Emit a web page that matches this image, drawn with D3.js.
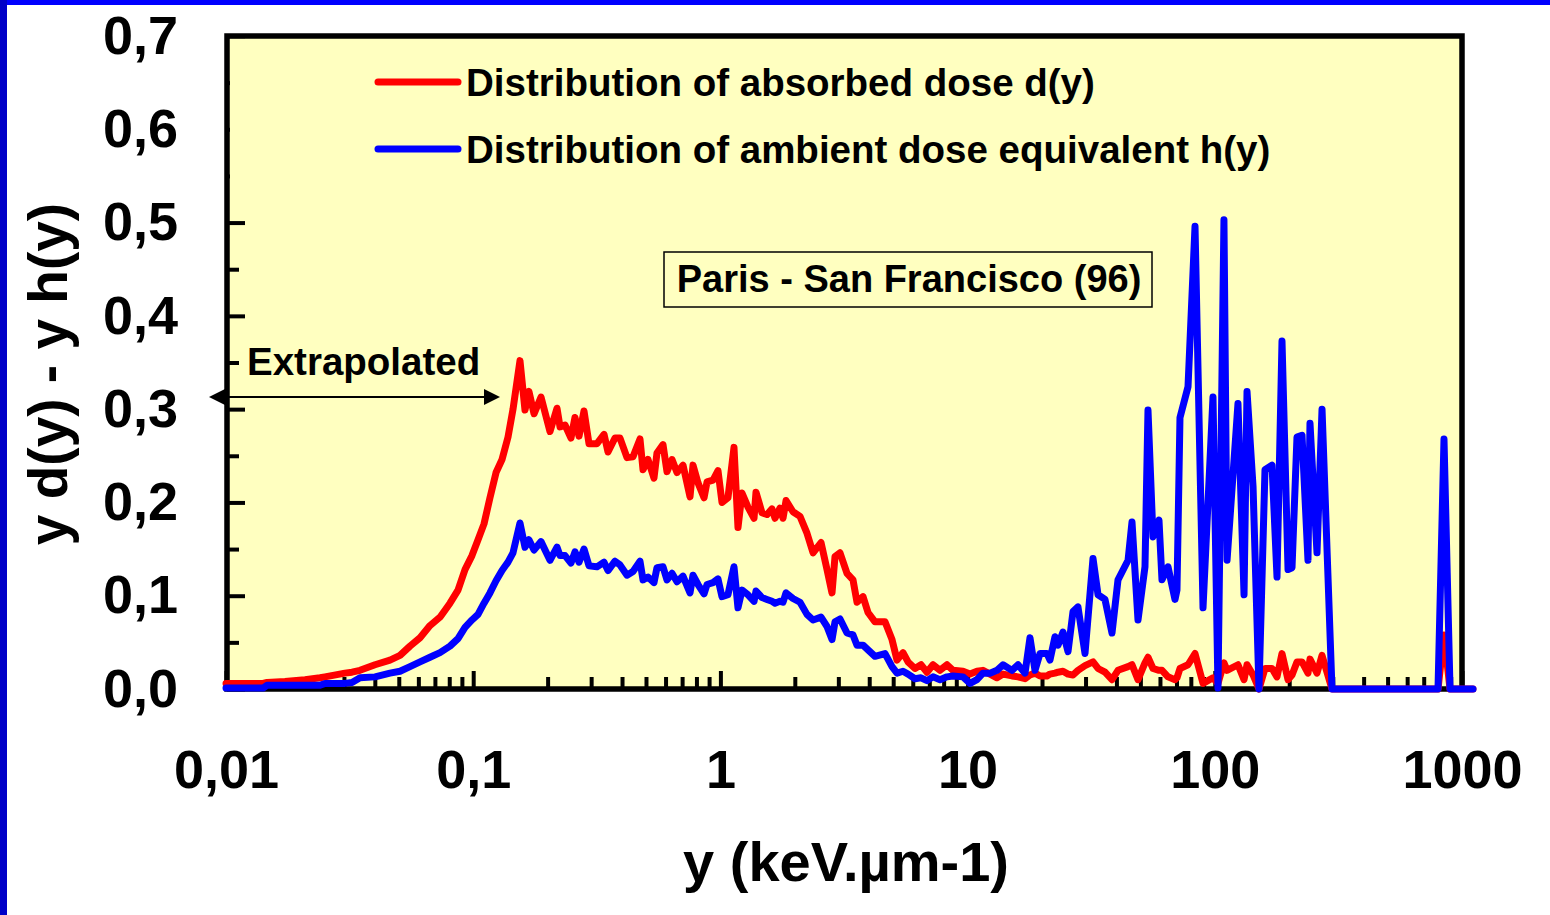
<!DOCTYPE html>
<html>
<head>
<meta charset="utf-8">
<script src="https://cdn.jsdelivr.net/npm/d3@7"></script>
<style>
  body { margin: 0; background: #fff; }
  svg { display: block; }
  text { font-family: "Liberation Sans", Arial, sans-serif; font-weight: bold; fill: #000; }
</style>
</head>
<body>
<svg id="chart" width="1550" height="915"></svg>
<script>
// lineal energy bins (keV/um), shared by both distributions
const yBins = [0.01, 0.01194, 0.01412, 0.01465, 0.01733, 0.02087, 0.02401, 0.02514, 0.03029, 0.03234,
  0.03484, 0.04007, 0.04607, 0.05058, 0.05551, 0.06094, 0.06687, 0.07339, 0.08056, 0.0868,
  0.09265, 0.09888, 0.1046, 0.1106, 0.1169, 0.1237, 0.1308, 0.1383, 0.1449, 0.1546,
  0.1620, 0.1681, 0.1762, 0.1881, 0.2045, 0.2183, 0.2245, 0.2352, 0.2486, 0.2581,
  0.2679, 0.2807, 0.2941, 0.3168, 0.3382, 0.3510, 0.3746, 0.3925, 0.4190, 0.4431,
  0.4729, 0.4863, 0.5094, 0.5387, 0.5539, 0.5858, 0.6081, 0.6371, 0.6674, 0.7058,
  0.7534, 0.7748, 0.8119, 0.8586, 0.8829, 0.9336, 0.9779,
  1.015, 1.073, 1.135, 1.178, 1.223, 1.293, 1.368, 1.393, 1.473, 1.543,
  1.617, 1.663, 1.742, 1.792, 1.843, 1.966, 2.099, 2.240, 2.370, 2.553,
  2.699, 2.828, 2.908, 3.047, 3.252, 3.439, 3.569, 3.775, 3.955, 4.221,
  4.634, 4.946, 5.182, 5.479, 5.741, 6.126, 6.479, 6.851, 7.244, 7.731,
  8.253, 8.728, 9.581,
  10.23, 10.91, 11.54, 12.32, 13.15, 13.91, 15.12, 15.99, 17.07, 17.88,
  18.74, 19.63, 20.95, 21.54, 22.57, 23.21, 24.32, 25.48, 26.69, 27.96,
  29.85, 32.16, 33.70, 35.96, 38.38, 40.59, 44.57, 46.24, 48.90, 52.19,
  53.67, 56.23, 59.46, 61.14, 64.66, 69.02, 70.31, 72.30, 77.92, 83.17,
  89.60, 98.33, 103.0, 108.9, 112.1, 124.1, 131.3, 135.0, 142.8, 150.9,
  159.6, 170.4, 178.5, 187.0, 197.8, 205.3, 215.0, 225.3, 238.2, 242.7,
  259.1, 271.5, 297.9, 799.7, 845.6, 894.4, 1108];

// y d(y) : absorbed dose distribution
const dValues = [0.006, 0.006, 0.006, 0.007, 0.008, 0.010, 0.012, 0.013, 0.017, 0.018,
  0.020, 0.026, 0.031, 0.036, 0.046, 0.055, 0.068, 0.077, 0.092, 0.106,
  0.128, 0.143, 0.160, 0.177, 0.205, 0.232, 0.246, 0.270, 0.300, 0.352,
  0.299, 0.319, 0.295, 0.313, 0.276, 0.301, 0.281, 0.283, 0.269, 0.291,
  0.271, 0.298, 0.263, 0.263, 0.273, 0.254, 0.269, 0.269, 0.248, 0.249,
  0.268, 0.235, 0.246, 0.226, 0.253, 0.262, 0.233, 0.246, 0.232, 0.240,
  0.206, 0.240, 0.221, 0.205, 0.222, 0.224, 0.234,
  0.200, 0.205, 0.259, 0.173, 0.210, 0.195, 0.183, 0.211, 0.189, 0.187,
  0.193, 0.183, 0.194, 0.183, 0.202, 0.190, 0.185, 0.167, 0.146, 0.157,
  0.128, 0.103, 0.142, 0.146, 0.124, 0.117, 0.093, 0.099, 0.082, 0.072,
  0.072, 0.053, 0.031, 0.039, 0.029, 0.022, 0.026, 0.018, 0.026, 0.020,
  0.026, 0.020, 0.019,
  0.016, 0.019, 0.020, 0.016, 0.012, 0.016, 0.014, 0.013, 0.011, 0.015,
  0.017, 0.014, 0.014, 0.016, 0.017, 0.018, 0.019, 0.016, 0.015, 0.020,
  0.025, 0.029, 0.022, 0.018, 0.010, 0.020, 0.024, 0.026, 0.010, 0.028,
  0.034, 0.022, 0.020, 0.020, 0.013, 0.010, 0.012, 0.022, 0.026, 0.038,
  0.006, 0.012, 0.006, 0.028, 0.020, 0.026, 0.010, 0.026, 0.015, 0.000,
  0.022, 0.022, 0.013, 0.038, 0.010, 0.015, 0.029, 0.029, 0.017, 0.032,
  0.017, 0.036, 0.000, 0.000, 0.058, 0.000, 0.000];

// y h(y) : ambient dose equivalent distribution
const hValues = [0.001, 0.001, 0.001, 0.004, 0.004, 0.004, 0.004, 0.006, 0.006, 0.007,
  0.012, 0.013, 0.017, 0.019, 0.024, 0.029, 0.034, 0.039, 0.046, 0.054,
  0.066, 0.074, 0.080, 0.092, 0.103, 0.116, 0.127, 0.136, 0.146, 0.178,
  0.152, 0.160, 0.149, 0.158, 0.138, 0.152, 0.143, 0.143, 0.135, 0.147,
  0.136, 0.150, 0.132, 0.131, 0.136, 0.127, 0.137, 0.133, 0.122, 0.126,
  0.137, 0.117, 0.120, 0.114, 0.130, 0.131, 0.117, 0.124, 0.115, 0.121,
  0.103, 0.122, 0.112, 0.102, 0.112, 0.114, 0.118,
  0.099, 0.101, 0.131, 0.087, 0.106, 0.101, 0.094, 0.105, 0.098, 0.096,
  0.094, 0.092, 0.094, 0.093, 0.103, 0.097, 0.093, 0.080, 0.074, 0.077,
  0.067, 0.053, 0.072, 0.075, 0.060, 0.058, 0.047, 0.047, 0.042, 0.035,
  0.038, 0.024, 0.017, 0.019, 0.016, 0.011, 0.012, 0.009, 0.013, 0.010,
  0.013, 0.014, 0.013,
  0.006, 0.010, 0.017, 0.017, 0.020, 0.026, 0.020, 0.026, 0.017, 0.055,
  0.020, 0.038, 0.038, 0.031, 0.056, 0.047, 0.061, 0.040, 0.083, 0.088,
  0.038, 0.140, 0.101, 0.096, 0.060, 0.117, 0.138, 0.179, 0.074, 0.131,
  0.299, 0.163, 0.181, 0.117, 0.131, 0.096, 0.106, 0.291, 0.324, 0.496,
  0.087, 0.313, 0.001, 0.503, 0.138, 0.306, 0.101, 0.319, 0.217, 0.000,
  0.235, 0.240, 0.120, 0.373, 0.128, 0.130, 0.270, 0.272, 0.138, 0.285,
  0.146, 0.300, 0.000, 0.000, 0.268, 0.000, 0.000];

const xTickValues = [0.01, 0.1, 1, 10, 100, 1000];
const xTickLabels = ["0,01", "0,1", "1", "10", "100", "1000"];
const yTickValues = [0, 0.1, 0.2, 0.3, 0.4, 0.5, 0.6, 0.7];
const yTickLabels = ["0,0", "0,1", "0,2", "0,3", "0,4", "0,5", "0,6", "0,7"];
const yMinorTicks = [0.05, 0.15, 0.25, 0.35, 0.45, 0.55, 0.65];
const seriesNames = ["Distribution of absorbed dose d(y)", "Distribution of ambient dose equivalent h(y)"];
const seriesColors = ["#ff0000", "#0000ff"];

const svg = d3.select("#chart");
const plotLeft = 227, plotRight = 1462, plotTop = 36, plotBottom = 689;

const x = d3.scaleLog().domain([0.01, 1000]).range([226, plotRight]);
const y = d3.scaleLinear().domain([0, 0.7]).range([plotBottom, plotTop]);

// blue slide frame
svg.append("rect").attr("x", 0).attr("y", 0).attr("width", 1550).attr("height", 5).attr("fill", "#0000ff");
svg.append("rect").attr("x", 0).attr("y", 0).attr("width", 7).attr("height", 915).attr("fill", "#0000c8");

// plot background
svg.append("rect").attr("x", plotLeft).attr("y", plotTop)
  .attr("width", plotRight - plotLeft).attr("height", plotBottom - plotTop)
  .attr("fill", "#ffffc0");

function styleAxis(g, size) {
  g.attr("font-size", null).attr("font-family", null);
  g.select(".domain").remove();
  g.selectAll(".tick line").attr("stroke", "#000").attr("stroke-width", 4);
  g.selectAll(".tick text").style("font-size", size + "px").attr("fill", "#000");
}

// x axis: decades + minor ticks, pointing inward
svg.append("g").attr("transform", "translate(0," + plotBottom + ")")
  .call(d3.axisBottom(x).tickValues(x.ticks().filter(d => xTickValues.indexOf(d) < 0))
    .tickSizeInner(-12).tickSizeOuter(0).tickFormat(""))
  .call(g => styleAxis(g, 54));
svg.append("g").attr("transform", "translate(0," + plotBottom + ")")
  .call(d3.axisBottom(x).tickValues(xTickValues).tickSizeInner(-18).tickSizeOuter(0)
    .tickPadding(61).tickFormat((d, i) => xTickLabels[i]))
  .call(g => styleAxis(g, 54));

// y axis
svg.append("g").attr("transform", "translate(" + plotLeft + ",0)")
  .call(d3.axisLeft(y).tickValues(yMinorTicks).tickSizeInner(-12).tickSizeOuter(0).tickFormat(""))
  .call(g => styleAxis(g, 54));
svg.append("g").attr("transform", "translate(" + plotLeft + ",0)")
  .call(d3.axisLeft(y).tickValues(yTickValues).tickSizeInner(-18).tickSizeOuter(0)
    .tickPadding(49).tickFormat((d, i) => yTickLabels[i]))
  .call(g => styleAxis(g, 54));

// legend box (same fill, hides the upper ticks)
svg.append("rect").attr("x", plotLeft + 3).attr("y", plotTop + 2.5).attr("width", 1060).attr("height", 145)
  .attr("fill", "#ffffc0");

// plot frame
svg.append("rect").attr("x", plotLeft).attr("y", plotTop)
  .attr("width", plotRight - plotLeft).attr("height", plotBottom - plotTop)
  .attr("fill", "none").attr("stroke", "#000").attr("stroke-width", 5.5);

// axis titles
svg.append("text").attr("transform", "translate(67,374) rotate(-90)")
  .attr("text-anchor", "middle").style("font-size", "55px").text("y d(y) - y h(y)");
svg.append("text").attr("x", 846).attr("y", 881)
  .attr("text-anchor", "middle").style("font-size", "56px").text("y (keV.µm-1)");

// legend
seriesNames.forEach((name, i) => {
  const ly = 82 + i * 67;
  svg.append("line").attr("x1", 378).attr("x2", 458).attr("y1", ly).attr("y2", ly)
    .attr("stroke", seriesColors[i]).attr("stroke-width", 7).attr("stroke-linecap", "round");
  svg.append("text").attr("x", 466).attr("y", ly + 14).style("font-size", "38.5px").text(name);
});

// flight label
svg.append("rect").attr("x", 664).attr("y", 252).attr("width", 488).attr("height", 55)
  .attr("fill", "none").attr("stroke", "#000").attr("stroke-width", 1.5);
svg.append("text").attr("x", 909).attr("y", 292).attr("text-anchor", "middle")
  .style("font-size", "38px").text("Paris - San Francisco (96)");

// extrapolated range annotation
svg.append("text").attr("x", 247).attr("y", 375).style("font-size", "38.5px").text("Extrapolated");
svg.append("line").attr("x1", 220).attr("x2", 488).attr("y1", 397).attr("y2", 397)
  .attr("stroke", "#000").attr("stroke-width", 2);
svg.append("path").attr("d", "M209,397L225,389L225,405Z").attr("fill", "#000");
svg.append("path").attr("d", "M500,397L484,389L484,405Z").attr("fill", "#000");

// curves
const line = d3.line().x(d => x(d[0])).y(d => y(d[1]));
[dValues, hValues].forEach((vals, i) => {
  svg.append("path").datum(d3.zip(yBins, vals))
    .attr("fill", "none").attr("stroke", seriesColors[i]).attr("stroke-width", 7)
    .attr("stroke-linejoin", "round").attr("stroke-linecap", "round")
    .attr("d", line);
});
</script>
</body>
</html>
